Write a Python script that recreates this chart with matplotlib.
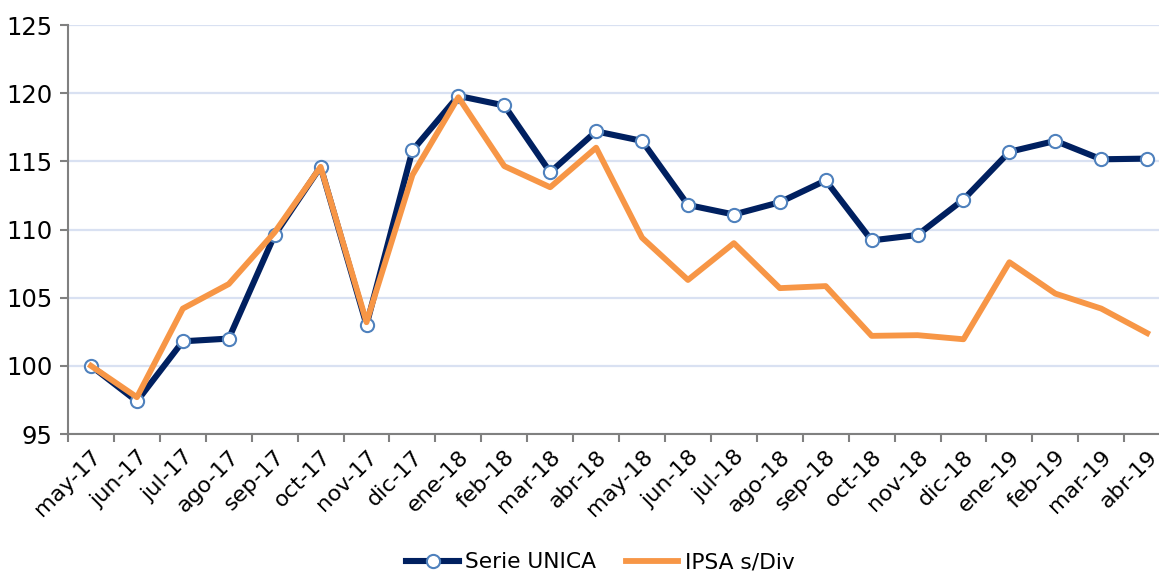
''' serie unica vs ipsa s/div, may-17 to abr-19 '''
import numpy as np
import matplotlib
matplotlib.use("Agg")
import matplotlib.pyplot as plt

months = ["may-17", "jun-17", "jul-17", "ago-17", "sep-17", "oct-17", "nov-17", "dic-17",
          "ene-18", "feb-18", "mar-18", "abr-18", "may-18", "jun-18", "jul-18", "ago-18",
          "sep-18", "oct-18", "nov-18", "dic-18", "ene-19", "feb-19", "mar-19", "abr-19"]
serie_unica = [100.0, 97.4, 101.8, 102.0, 109.6, 114.6, 103.0, 115.8,
               119.8, 119.1, 114.2, 117.2, 116.5, 111.8, 111.1, 112.0,
               113.6, 109.2, 109.6, 112.2, 115.7, 116.5, 115.15, 115.2]
ipsa_sdiv = [100.0, 97.7, 104.2, 106.0, 109.8, 114.6, 103.2, 114.0,
             119.7, 114.65, 113.1, 116.0, 109.4, 106.3, 109.0, 105.7,
             105.85, 102.2, 102.25, 101.95, 107.6, 105.3, 104.2, 102.4]
y_ticks = [95, 100, 105, 110, 115, 120, 125]

plt.rcParams['font.family'] = ['DejaVu Sans']
fig = plt.figure(figsize=(11.59, 5.71), dpi=100)
# axes run a little past the right edge, like the original
ax = fig.add_axes([0.0587, 0.2399, 0.9509, 0.7163])

x = np.arange(len(months))
ax.plot(x, serie_unica, color='#002060', lw=4.4, marker='o', ms=9.5,
        mfc='white', mec='#4F81BD', mew=1.5, label='Serie UNICA', zorder=3)
ax.plot(x, ipsa_sdiv, color='#F79646', lw=4.2, label='IPSA s/Div', zorder=4)

ax.set_xlim(-0.5, len(months) - 0.5)
ax.set_ylim(95, 125)
ax.set_yticks(y_ticks)
ax.yaxis.grid(True, color='#D9E1F2', lw=1.6)
ax.set_axisbelow(True)

# labels at category centres, tick marks on the boundaries
ax.set_xticks(x)
ax.set_xticklabels(months, rotation=45, ha='right', rotation_mode='anchor')
ax.set_xticks(np.arange(len(months) + 1) - 0.5, minor=True)
ax.tick_params(axis='x', which='major', length=0, pad=9, labelsize=16)
ax.tick_params(axis='x', which='minor', length=6, width=1.5, color='#808080')
ax.tick_params(axis='y', length=6, width=1.5, color='#808080', labelsize=17.5, pad=5)

for s in ['top', 'right']:
    ax.spines[s].set_visible(False)
for s in ['left', 'bottom']:
    ax.spines[s].set_color('#808080')
    ax.spines[s].set_linewidth(1.5)

fig.legend(loc='center', bbox_to_anchor=(0.518, 0.015), ncol=2, frameon=False,
           fontsize=15.7, handlelength=2.4, columnspacing=1.35, handletextpad=0.3)

fig.savefig('out.png', dpi=100)
